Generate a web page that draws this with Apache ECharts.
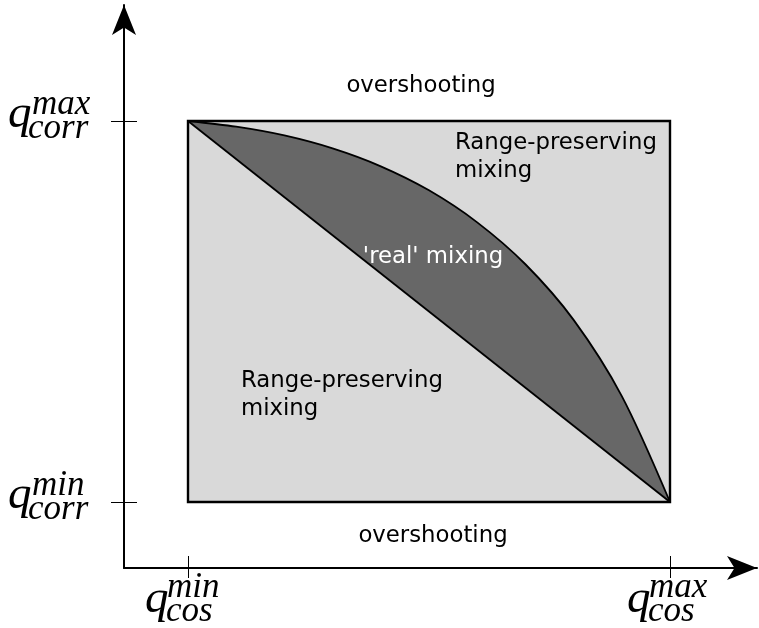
<!DOCTYPE html>
<html>
<head>
<meta charset="utf-8">
<script src="https://cdn.jsdelivr.net/npm/echarts@6/dist/echarts.min.js"></script>
<style>html,body{margin:0;padding:0;background:#fff}#c{width:759px;height:628px}</style>
</head>
<body>
<div id="c"></div>
<script>
// ---- data ----
const xTickValues = [0, 1];
const yTickValues = [0, 1];
const xTickSup = ['min', 'max'];
const xTickSub = ['cos', 'cos'];
const yTickSup = ['min', 'max'];
const yTickSub = ['corr', 'corr'];
const rectX = [0, 1, 1, 0];
const rectY = [0, 0, 1, 1];
const curveX = [0, 0.1, 0.2, 0.3, 0.4, 0.5, 0.6, 0.7, 0.8, 0.9, 1];
const curveY = [1, 0.985, 0.962, 0.928, 0.881, 0.818, 0.734, 0.624, 0.478, 0.278, 0];
const annotTexts = ['overshooting', 'overshooting', 'Range-preserving\nmixing', 'Range-preserving\nmixing', "'real' mixing"];

const XMIN = -0.13278, XMAX = 1.18050, YMIN = -0.17323, YMAX = 1.30446;

const chart = echarts.init(document.getElementById('c'), null, {renderer: 'canvas'});

function axisBase(range, isX, tickInside, tickLen, showLine) {
  return {
    type: 'value', min: range[0], max: range[1],
    position: isX ? 'bottom' : 'left',
    axisLine: {show: showLine, onZero: false, symbol: ['none', 'arrow'], symbolSize: [18, 30],
      lineStyle: {color: '#000', width: 2}},
    axisTick: {show: true, inside: tickInside, length: tickLen, customValues: isX ? xTickValues : yTickValues,
      lineStyle: {color: '#000', width: 1}},
    axisLabel: {show: false},
    splitLine: {show: false}
  };
}

const option = {
  animation: false,
  grid: {left: 124, right: 2, top: 5, bottom: 60, containLabel: false},
  xAxis: [axisBase([XMIN, XMAX], true, true, 12, true), axisBase([XMIN, XMAX], true, false, 10, false)],
  yAxis: [axisBase([YMIN, YMAX], false, true, 13, true), axisBase([YMIN, YMAX], false, false, 13, false)],
  series: [
    {
      type: 'custom', coordinateSystem: 'cartesian2d', data: [[0, 0]], z: 1,
      renderItem: function (params, api) {
        const rectPts = rectX.map((x, i) => api.coord([x, rectY[i]]));
        const curvePts = curveX.map((x, i) => api.coord([x, curveY[i]]));
        const first = curvePts[0], last = curvePts[curvePts.length - 1];
        return {
          type: 'group',
          children: [
            {type: 'polygon', shape: {points: rectPts}, style: {fill: '#d9d9d9', stroke: null}},
            {type: 'polyline', shape: {points: curvePts, smooth: 0.3}, style: {fill: '#676767', stroke: '#000', lineWidth: 1.8}},
            {type: 'line', shape: {x1: first[0], y1: first[1], x2: last[0], y2: last[1]}, style: {stroke: '#000', lineWidth: 1.8}},
            {type: 'polygon', shape: {points: rectPts}, style: {fill: null, stroke: '#000', lineWidth: 2.4}}
          ]
        };
      }
    }
  ]
};
chart.setOption(option);

// tick labels (math-style)
const serif = 'Liberation Serif';
const QS = 47, SS = 35;
function mid(baseline, size) { return baseline - 0.3 * size; }
const g = [];
function txt(x, baseline, s, size) {
  g.push({type: 'text', x: x, y: mid(baseline, size), z: 10,
    style: {text: s, fontSize: size, fontFamily: serif, fontStyle: 'italic', fill: '#000', verticalAlign: 'middle', align: 'left'}});
}
function mathLabel(qx, qb, supx, supb, subx, subb, sup, sub) {
  txt(qx, qb, 'q', QS);
  txt(supx, supb, sup, SS);
  txt(subx, subb, sub, SS);
}
xTickValues.forEach((v, i) => {
  const tx = chart.convertToPixel({gridIndex: 0}, [v, 0])[0];
  mathLabel(tx - 43, 614, tx - 21, 598, tx - 22, 622, xTickSup[i], xTickSub[i]);
});
yTickValues.forEach((v, i) => {
  const ty = chart.convertToPixel({gridIndex: 0}, [0, v])[1];
  mathLabel(8, ty + 8, 32, ty - 6, 28, ty + 18, yTickSup[i], yTickSub[i]);
});
// annotations
const sans = 'DejaVu Sans';
const annotStyle = [
  {x: 421, y: 86, align: 'center', fill: '#000'},
  {x: 433, y: 536, align: 'center', fill: '#000'},
  {x: 455, y: 143 - 14, align: 'left', fill: '#000', va: 'top'},
  {x: 241, y: 381 - 14, align: 'left', fill: '#000', va: 'top'},
  {x: 433, y: 257, align: 'center', fill: '#fff'}
];
annotTexts.forEach((t, i) => {
  const s = annotStyle[i];
  g.push({type: 'text', x: s.x, y: s.y, z: 10, style: {text: t, fontSize: 22.8, fontFamily: sans, fill: s.fill, align: s.align,
    verticalAlign: s.va || 'middle', lineHeight: 28}});
});
chart.setOption({graphic: g});
</script>
</body>
</html>
